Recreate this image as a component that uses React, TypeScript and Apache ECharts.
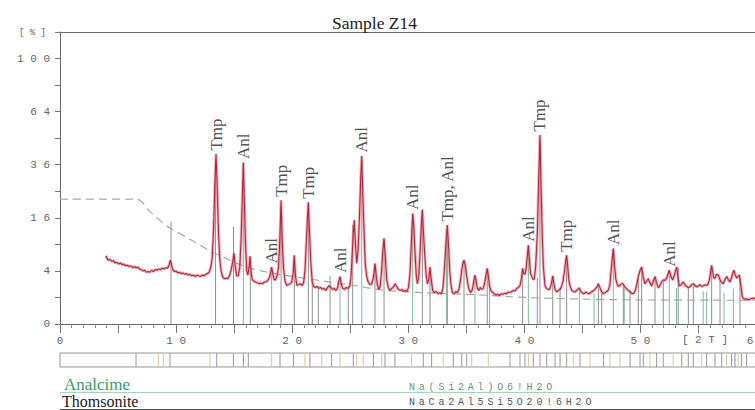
import React, { useEffect, useRef } from "react";
import * as echarts from "echarts";

const chartTitle = "Sample Z14";
const xTickLabels = [0, 10, 20, 30, 40, 50, 60];
const yTickLabels = [0, 4, 16, 36, 64, 100];
const xAxisName = "[ 2 T ]";
const yAxisName = "[ % ]";

// Measured pattern: [2theta (deg), intensity (%)]
const patternPoints: [number, number][] = [
  [3.96, 6.6], [4.05, 6.1], [4.15, 5.8], [4.3, 5.9], [4.45, 5.6], [4.6, 5.7], [4.75, 5.3], [4.9, 5.4],
  [5.05, 5.1], [5.2, 5.3], [5.35, 5.0], [5.5, 5.1], [5.65, 4.8], [5.8, 4.9], [5.95, 4.7], [6.1, 4.8],
  [6.25, 4.5], [6.4, 4.7], [6.55, 4.5], [6.7, 4.6], [6.85, 4.3], [7.0, 4.2], [7.15, 4.0], [7.3, 4.1],
  [7.45, 3.8], [7.6, 3.9], [7.75, 3.8], [7.9, 4.1], [8.05, 3.9], [8.2, 4.2], [8.35, 4.1], [8.5, 4.3],
  [8.65, 4.2], [8.8, 4.4], [8.95, 4.3], [9.1, 4.5], [9.25, 4.4], [9.38, 4.8], [9.5, 5.8], [9.6, 5.0],
  [9.72, 4.2], [9.85, 3.9], [10.0, 4.0], [10.15, 3.7], [10.3, 3.8], [10.45, 3.6], [10.6, 3.7], [10.75, 3.5],
  [10.9, 3.6], [11.05, 3.4], [11.2, 3.5], [11.35, 3.3], [11.5, 3.4], [11.65, 3.2], [11.8, 3.4], [11.95, 3.3],
  [12.1, 3.2], [12.25, 3.4], [12.4, 3.3], [12.55, 3.5], [12.7, 3.6], [12.85, 3.8], [12.98, 4.5], [13.1, 6.0],
  [13.22, 12], [13.34, 28], [13.44, 41], [13.54, 27], [13.65, 12], [13.76, 6.0], [13.88, 4.0], [14.0, 3.2],
  [14.15, 2.9], [14.3, 3.0], [14.45, 2.9], [14.6, 3.3], [14.75, 4.2], [14.88, 5.6], [14.99, 7.1], [15.1, 4.6],
  [15.22, 3.3], [15.35, 3.3], [15.48, 4.5], [15.6, 10], [15.7, 22], [15.79, 37], [15.88, 22], [15.98, 9],
  [16.08, 4.0], [16.18, 3.4], [16.28, 4.5], [16.37, 6.5], [16.46, 3.8], [16.56, 2.8], [16.7, 2.6], [16.85, 2.5],
  [17.0, 2.4], [17.15, 2.3], [17.3, 2.4], [17.45, 2.3], [17.6, 2.5], [17.75, 2.5], [17.9, 2.7], [18.05, 3.1],
  [18.15, 3.9], [18.23, 4.6], [18.33, 3.6], [18.45, 2.8], [18.58, 2.8], [18.7, 3.3], [18.82, 4.5], [18.93, 10],
  [19.04, 21.7], [19.14, 10], [19.25, 4.5], [19.38, 2.6], [19.53, 2.1], [19.68, 2.2], [19.83, 2.3], [19.96, 2.5],
  [20.08, 3.6], [20.18, 6.7], [20.28, 3.4], [20.4, 2.1], [20.55, 2.2], [20.7, 2.3], [20.85, 2.1], [20.98, 2.4],
  [21.1, 4.0], [21.2, 8.5], [21.3, 15], [21.39, 21], [21.49, 12], [21.6, 5.5], [21.72, 2.6], [21.85, 2.0],
  [22.0, 1.9], [22.15, 2.0], [22.3, 1.8], [22.45, 1.9], [22.6, 1.7], [22.75, 1.8], [22.9, 1.6], [23.05, 1.9],
  [23.2, 2.1], [23.32, 1.9], [23.48, 1.7], [23.62, 1.8], [23.78, 1.6], [23.92, 1.9], [24.02, 2.6], [24.12, 3.2],
  [24.22, 2.3], [24.35, 1.8], [24.5, 1.7], [24.65, 1.9], [24.8, 1.8], [24.95, 2.0], [25.07, 3.2], [25.16, 6.5],
  [25.26, 11.5], [25.35, 15.3], [25.45, 9], [25.56, 5.2], [25.68, 8], [25.8, 17], [25.9, 30], [25.99, 40],
  [26.08, 24], [26.19, 12], [26.3, 5], [26.42, 3.2], [26.55, 2.5], [26.7, 2.2], [26.85, 2.3], [26.97, 2.9],
  [27.05, 3.8], [27.13, 5.2], [27.22, 3.6], [27.32, 2.3], [27.45, 1.7], [27.58, 2.0], [27.7, 4.0], [27.8, 7.5],
  [27.91, 10.4], [28.02, 6.5], [28.14, 2.8], [28.28, 1.9], [28.42, 1.6], [28.56, 1.8], [28.7, 1.9], [28.85, 2.3],
  [29.0, 2.0], [29.15, 1.7], [29.3, 1.6], [29.45, 1.7], [29.6, 1.5], [29.75, 1.6], [29.88, 1.5], [30.02, 1.9],
  [30.15, 3.7], [30.27, 10], [30.38, 17.3], [30.48, 13], [30.58, 7.2], [30.68, 3.5], [30.78, 2.3], [30.9, 3.2],
  [31.01, 7.2], [31.11, 13], [31.21, 18.6], [31.32, 11], [31.44, 6.0], [31.55, 3.2], [31.65, 2.3], [31.76, 2.8],
  [31.87, 4.6], [31.98, 2.8], [32.1, 1.6], [32.25, 1.4], [32.4, 1.5], [32.55, 1.3], [32.7, 1.4], [32.85, 1.3],
  [32.98, 1.8], [33.08, 3.5], [33.18, 6.5], [33.27, 10.5], [33.36, 13.9], [33.46, 9], [33.56, 4.2], [33.67, 2.2],
  [33.8, 1.4], [33.95, 1.3], [34.1, 1.5], [34.25, 1.4], [34.38, 1.8], [34.5, 2.8], [34.6, 4.1], [34.7, 5.2],
  [34.8, 5.8], [34.9, 5.0], [35.0, 3.6], [35.12, 2.3], [35.25, 1.6], [35.4, 1.4], [35.52, 1.7], [35.64, 2.6],
  [35.74, 3.4], [35.84, 2.6], [35.95, 1.8], [36.08, 1.6], [36.2, 1.9], [36.33, 1.7], [36.46, 1.8], [36.58, 2.4],
  [36.7, 3.5], [36.8, 4.4], [36.9, 3.2], [37.0, 2.0], [37.12, 1.6], [37.26, 1.4], [37.4, 1.3], [37.55, 1.2],
  [37.7, 1.25], [37.85, 1.15], [38.0, 1.3], [38.15, 1.25], [38.3, 1.35], [38.45, 1.3], [38.6, 1.45], [38.75, 1.4],
  [38.9, 1.5], [39.05, 1.6], [39.2, 1.55], [39.34, 1.8], [39.48, 1.9], [39.62, 2.1], [39.75, 3.0], [39.85, 4.4],
  [39.95, 3.6], [40.05, 3.5], [40.15, 4.4], [40.25, 6.5], [40.34, 8.8], [40.43, 6.0], [40.53, 3.6], [40.63, 3.2],
  [40.75, 2.8], [40.86, 2.9], [40.96, 4.5], [41.05, 8], [41.13, 13], [41.22, 28], [41.34, 50.7], [41.44, 26],
  [41.54, 11], [41.64, 4.5], [41.77, 2.1], [41.9, 1.8], [42.04, 1.7], [42.16, 1.7], [42.28, 2.1], [42.37, 2.7],
  [42.44, 3.3], [42.53, 2.4], [42.64, 1.7], [42.78, 1.45], [42.92, 1.6], [43.06, 1.7], [43.2, 2.0], [43.32, 2.6],
  [43.44, 3.8], [43.55, 5.6], [43.64, 6.7], [43.74, 4.5], [43.84, 2.6], [43.95, 2.0], [44.08, 1.6], [44.22, 1.5],
  [44.36, 1.45], [44.5, 1.6], [44.62, 1.7], [44.73, 1.85], [44.86, 1.5], [45.0, 1.35], [45.14, 1.3], [45.28, 1.45],
  [45.42, 1.35], [45.56, 1.3], [45.7, 1.4], [45.84, 1.5], [45.98, 1.6], [46.1, 1.75], [46.22, 1.9], [46.37, 2.3],
  [46.5, 1.9], [46.64, 1.5], [46.8, 1.3], [46.95, 1.4], [47.1, 1.5], [47.24, 1.65], [47.36, 2.2], [47.46, 3.8],
  [47.56, 6.0], [47.66, 8.1], [47.76, 5.0], [47.87, 2.9], [47.98, 2.3], [48.1, 2.0], [48.23, 2.1], [48.36, 2.3],
  [48.5, 2.3], [48.62, 2.0], [48.76, 1.8], [48.9, 1.65], [49.04, 1.5], [49.18, 1.4], [49.3, 1.3], [49.42, 1.35],
  [49.55, 1.6], [49.68, 2.2], [49.81, 3.2], [49.95, 4.0], [50.1, 4.6], [50.24, 3.1], [50.39, 2.3], [50.53, 2.6],
  [50.67, 2.9], [50.81, 2.4], [50.96, 2.05], [51.1, 2.6], [51.25, 3.2], [51.39, 2.4], [51.53, 1.85], [51.67, 2.1],
  [51.82, 2.5], [51.96, 2.75], [52.1, 2.7], [52.26, 3.0], [52.38, 3.6], [52.48, 4.1], [52.62, 3.2], [52.77, 2.75],
  [52.92, 3.4], [53.02, 4.0], [53.12, 4.6], [53.22, 3.2], [53.34, 2.05], [53.5, 2.2], [53.69, 2.5], [53.85, 2.1],
  [54.0, 2.0], [54.12, 1.85], [54.28, 2.0], [54.42, 2.2], [54.55, 2.3], [54.7, 2.1], [54.84, 1.95], [54.98, 2.05],
  [55.12, 2.2], [55.27, 2.0], [55.41, 2.05], [55.56, 2.2], [55.7, 2.1], [55.84, 2.3], [55.96, 3.0], [56.05, 4.0],
  [56.13, 4.9], [56.22, 3.8], [56.32, 3.0], [56.42, 3.0], [56.56, 3.5], [56.7, 3.4], [56.84, 2.8], [56.98, 2.5],
  [57.13, 2.3], [57.28, 2.8], [57.42, 3.2], [57.56, 2.8], [57.71, 2.5], [57.85, 3.1], [57.96, 3.7], [58.05, 4.1],
  [58.16, 3.4], [58.29, 3.0], [58.4, 3.2], [58.52, 3.4], [58.64, 2.2], [58.76, 1.1], [58.86, 0.93], [59.0, 0.86],
  [59.15, 0.9], [59.29, 0.82], [59.43, 0.88], [59.58, 0.92], [59.72, 0.93], [59.86, 0.97],
];

// Background curve (dashed): [2theta, %]
const backgroundCurve: [number, number][] = [
  [0, 22.1], [6.6, 22.1], [7.75, 18], [8.9, 14.4], [9.5, 13.0], [11.2, 10.2], [12.9, 7.6], [14.6, 5.8],
  [16.4, 4.4], [19.2, 3.4], [22.1, 2.75], [25.0, 2.16], [27.8, 1.64], [30.75, 1.42], [36.4, 1.19],
  [38.8, 1.06], [42, 0.94], [50, 0.82], [60, 0.8],
];

// Reference sticks: [2theta, %]
const thomsoniteSticks: [number, number][] = [
  [9.56, 14.8], [13.4, 38], [14.94, 13.5], [16.39, 6.5], [19.04, 20], [20.18, 6.5], [21.39, 20], [21.73, 2.6],
  [22.25, 2.0], [23.26, 3.3], [24.83, 2.0], [25.21, 14], [27.13, 5.0], [27.91, 10], [31.21, 18], [31.87, 4.4],
  [33.36, 13.5], [34.8, 5.5], [36.8, 4.2], [39.85, 4.3], [41.11, 3.0], [41.34, 48], [42.44, 3.0], [43.07, 1.8],
  [43.64, 6.5], [46.37, 2.2], [46.66, 1.6], [48.52, 2.2], [49.1, 1.6], [49.81, 3.0], [50.1, 4.4], [51.25, 3.0],
  [51.96, 2.6], [53.25, 4.5], [54.12, 1.8], [54.55, 2.1], [56.13, 4.6], [56.85, 2.8], [58.57, 3.0],
];
const analcimeSticks: [number, number][] = [
  [15.79, 36], [18.23, 4.4], [24.12, 3.0], [25.99, 38], [30.38, 17], [33.3, 12], [35.74, 3.2], [37.0, 1.8],
  [40.34, 8.4], [44.73, 1.5], [46.0, 1.3], [47.66, 7.8], [48.6, 1.8], [52.48, 4.0], [53.1, 1.8], [55.4, 1.5],
  [55.7, 1.5], [57.2, 1.4], [58.0, 1.8],
];

// Lines in the strip under the axis (2theta)
const stripLinesGrey = [
  6.55, 9.47, 13.5, 14.93, 15.79, 16.22, 18.95, 20.1, 21.53, 23.4, 25.26, 26.99, 27.99, 28.85, 31.29, 32.01,
  33.87, 34.6, 35.03, 38.76, 39.62, 40.05, 40.77, 41.34, 41.92, 42.64, 43.07, 43.64, 44.79, 46.8, 49.1, 49.96,
  50.24, 51.39, 51.96, 53.55, 54.12, 54.55, 55.7, 56.42, 56.99, 57.85, 58.14, 58.71, 59.14,
];
const stripLinesTan = [
  8.47, 8.9, 12.92, 18.23, 21.1, 22.54, 24.12, 25.56, 26.12, 27.71, 30.29, 33.01, 35.46, 36.89, 40.34, 44.21,
  45.65, 47.37, 48.23, 50.82, 52.82, 55.27, 57.42, 58.42,
];

const peakNames = ["Tmp", "Anl", "Anl", "Tmp", "Tmp", "Anl", "Anl", "Anl", "Tmp, Anl", "Anl", "Tmp", "Tmp", "Anl", "Anl"];
const peakPositions = [13.44, 15.79, 18.23, 19.04, 21.39, 24.12, 25.99, 30.38, 33.36, 40.34, 41.34, 43.64, 47.66, 52.48];
const peakIntensities = [41, 37, 4.6, 21.7, 21, 3.2, 40, 17.3, 13.9, 8.8, 50.7, 6.7, 8.1, 4.1];

const phaseNames = ["Analcime", "Thomsonite"];
const phaseFormulas = ["Na(Si2Al)O6!H2O", "NaCa2Al5Si5O20!6H2O"];

const MONO = "Liberation Mono, DejaVu Sans Mono, monospace";
const SERIF = "Liberation Serif, DejaVu Serif, serif";
const spaced = (v: number | string) => String(v).split("").join(" ");
const sq = (p: [number, number]) => [p[0], Math.sqrt(p[1])];

const stickRender = (color: string) => (params: any, api: any) => {
  const x = api.value(0);
  const y = api.value(1);
  const a = api.coord([x, 0]);
  const b = api.coord([x, y]);
  return {
    type: "line",
    shape: { x1: a[0], y1: a[1], x2: b[0], y2: b[1] },
    style: { stroke: color, lineWidth: 1 },
  };
};

export default function App() {
  const ref = useRef<HTMLDivElement>(null);
  useEffect(() => {
    if (!ref.current) return;
    const chart = echarts.init(ref.current, undefined, { renderer: "svg" });

    const formulaChars: any[] = [];
    phaseFormulas.forEach((f, r) => {
      f.split("").forEach((ch, i) => {
        formulaChars.push({
          type: "text",
          x: 409 + i * 9.8,
          y: r === 0 ? 387 : 402,
          style: {
            text: ch,
            fontFamily: MONO,
            fontSize: 10,
            fill: r === 0 ? "#6f8f7e" : "#555",
            align: "left",
            verticalAlign: "middle",
          },
        });
      });
    });

    chart.setOption({
      animation: false,
      backgroundColor: "#fff",
      title: {
        text: chartTitle,
        left: 327,
        top: 9,
        textStyle: { fontFamily: SERIF, fontSize: 17.5, fontWeight: "normal", color: "#222" },
      },
      grid: [
        { left: 60, top: 32, width: 696.6, height: 292, outerBoundsMode: "none", containLabel: false },
        {
          left: 60, top: 353, width: 696.6, height: 14, show: true, borderColor: "#999", borderWidth: 1,
          backgroundColor: "#fff", outerBoundsMode: "none", containLabel: false,
        },
      ],
      xAxis: [
        {
          gridIndex: 0,
          type: "value",
          position: "bottom",
          min: 0,
          max: 60,
          interval: 5,
          axisLine: { show: true, lineStyle: { color: "#666", width: 1 } },
          axisTick: { show: true, length: 9, lineStyle: { color: "#777" } },
          minorTick: { show: true, splitNumber: 5, length: 4, lineStyle: { color: "#888" } },
          axisLabel: {
            formatter: (v: number) => (xTickLabels.includes(v) ? spaced(v) : ""),
            margin: 11,
            fontFamily: MONO,
            fontSize: 11,
            color: "#666",
            showMaxLabel: true,
          },
          splitLine: { show: false },
        },
        {
          gridIndex: 0,
          type: "value",
          position: "top",
          min: 0,
          max: 60,
          axisLine: { show: true, lineStyle: { color: "#666", width: 1 } },
          axisTick: { show: false },
          axisLabel: { show: false },
          splitLine: { show: false },
        },
        { gridIndex: 1, type: "value", min: 0, max: 60, show: false, splitLine: { show: false } },
      ],
      yAxis: [
        {
          gridIndex: 0,
          type: "value",
          min: 0,
          max: 11,
          interval: 1,
          axisLine: { show: true, lineStyle: { color: "#666", width: 1 } },
          axisTick: { show: true, length: 5, lineStyle: { color: "#777" } },
          axisLabel: {
            formatter: (v: number) => (yTickLabels.includes(v * v) ? spaced(v * v) : ""),
            margin: 10,
            fontFamily: MONO,
            fontSize: 11,
            color: "#666",
          },
          splitLine: { show: false },
        },
        { gridIndex: 1, type: "value", min: 0, max: 1, show: false, splitLine: { show: false } },
      ],
      series: [
        {
          type: "custom",
          xAxisIndex: 0,
          yAxisIndex: 0,
          silent: true,
          z: 1,
          renderItem: stickRender("#8e8e8e"),
          data: thomsoniteSticks.map(sq),
        },
        {
          type: "custom",
          xAxisIndex: 0,
          yAxisIndex: 0,
          silent: true,
          z: 1,
          renderItem: stickRender("#7dbb98"),
          data: analcimeSticks.map(sq),
        },
        {
          type: "line",
          xAxisIndex: 0,
          yAxisIndex: 0,
          silent: true,
          z: 2,
          showSymbol: false,
          smooth: 0.3,
          lineStyle: { color: "#a8a8a8", width: 1.2, type: [8, 5] },
          data: backgroundCurve.map(sq),
        },
        {
          type: "line",
          xAxisIndex: 0,
          yAxisIndex: 0,
          silent: true,
          z: 3,
          showSymbol: false,
          lineStyle: { color: "rgba(228,120,135,0.55)", width: 3 },
          data: patternPoints.map(sq),
        },
        {
          type: "line",
          xAxisIndex: 0,
          yAxisIndex: 0,
          silent: true,
          z: 4,
          showSymbol: false,
          lineStyle: { color: "#b3263a", width: 1.1 },
          data: patternPoints.map(sq),
        },
        {
          type: "scatter",
          xAxisIndex: 0,
          yAxisIndex: 0,
          silent: true,
          z: 5,
          symbolSize: 1,
          itemStyle: { color: "rgba(0,0,0,0)" },
          label: {
            show: true,
            formatter: "{b}",
            position: "top",
            distance: 3,
            rotate: 90,
            align: "left",
            verticalAlign: "middle",
            fontFamily: SERIF,
            fontSize: 17,
            color: "#222",
          },
          data: peakNames.map((n, i) => ({ name: n, value: [peakPositions[i], Math.sqrt(peakIntensities[i])] })),
        },
        {
          type: "custom",
          xAxisIndex: 2,
          yAxisIndex: 1,
          silent: true,
          renderItem: stickRender("#9a9a9a"),
          data: stripLinesGrey.map((x) => [x, 1]),
        },
        {
          type: "custom",
          xAxisIndex: 2,
          yAxisIndex: 1,
          silent: true,
          renderItem: stickRender("#d9c69a"),
          data: stripLinesTan.map((x) => [x, 1]),
        },
      ],
      graphic: [
        {
          type: "text",
          x: 19,
          y: 33,
          style: { text: yAxisName, fontFamily: MONO, fontSize: 9, fill: "#666", align: "left", verticalAlign: "middle" },
        },
        {
          type: "text",
          x: 705,
          y: 340,
          style: { text: xAxisName, fontFamily: MONO, fontSize: 11, fill: "#666", align: "center", verticalAlign: "middle" },
        },
        {
          type: "line",
          shape: { x1: 60, y1: 392.5, x2: 755, y2: 392.5 },
          style: { stroke: "#a3d6b6", lineWidth: 1 },
        },
        {
          type: "line",
          shape: { x1: 60, y1: 409.5, x2: 755, y2: 409.5 },
          style: { stroke: "#555", lineWidth: 1 },
        },
        {
          type: "text",
          x: 64,
          y: 384,
          style: { text: phaseNames[0], fontFamily: SERIF, fontSize: 17, fill: "#3a9d63", align: "left", verticalAlign: "middle" },
        },
        {
          type: "text",
          x: 62,
          y: 401,
          style: { text: phaseNames[1], fontFamily: SERIF, fontSize: 16, fill: "#1a1a1a", align: "left", verticalAlign: "middle" },
        },
        ...formulaChars,
      ],
    });
    return () => chart.dispose();
  }, []);
  return (
    <div
      ref={ref}
      style={{ position: "fixed", left: 0, top: 0, width: 755, height: 410, background: "#fff" }}
    />
  );
}
